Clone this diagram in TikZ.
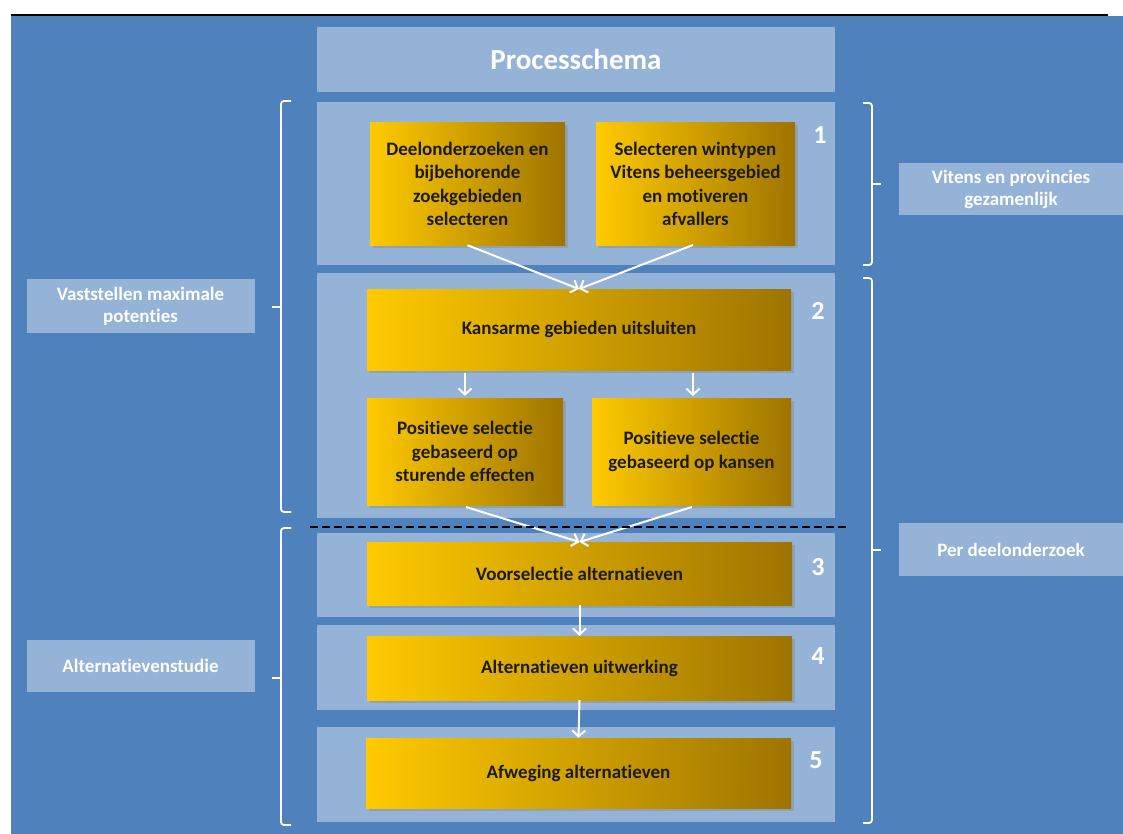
\documentclass[tikz,border=0pt]{standalone}
\usepackage{fontspec}
\setmainfont{Carlito}[Ligatures=NoCommon]
\usetikzlibrary{arrows.meta,shadows}
\definecolor{bgblue}{HTML}{4F81BD}
\definecolor{panelblue}{HTML}{95B3D7}
\definecolor{goldL}{HTML}{FFCA00}
\definecolor{goldR}{HTML}{9E7400}
\definecolor{txtdark}{HTML}{1A1A1A}
\tikzset{
  panel/.style={fill=panelblue, inner sep=0pt, minimum width=518pt},
  goldbox/.style={left color=goldL, right color=goldR, inner sep=2pt, align=center,
    text=txtdark, font=\fontsize{19}{23.6}\selectfont\bfseries,
    drop shadow={opacity=0.35, shadow xshift=2.5pt, shadow yshift=-2.5pt}},
  sidelabel/.style={fill=panelblue, inner sep=0pt, align=center, text=white,
    font=\fontsize{19}{22}\selectfont\bfseries},
  numlabel/.style={text=white, font=\fontsize{26}{26}\selectfont\bfseries, inner sep=0pt},
  arr/.style={draw=white, line width=2pt, -{Straight Barb[length=6pt,width=13pt,line width=2pt]}},
  bracket/.style={draw=white, line width=1.8pt, rounded corners=3pt},
}
\begin{document}
\begin{tikzpicture}[x=1pt, y=-1pt]
\useasboundingbox (0,0) rectangle (1123,834);
\fill[white] (0,0) rectangle (1123,834);
\fill[bgblue] (11,16) rectangle (1123,834);
\draw[black, line width=1.6pt] (11,15) -- (1108,15);

% title
\node[panel, minimum height=65pt, text=white, font=\fontsize{29}{29}\selectfont\bfseries] (title) at (576,59.5) {Processchema};

% panels
\node[panel, minimum height=163pt] (p1) at (576,183.5) {};
\node[panel, minimum height=245pt] (p2) at (576,395.5) {};
\node[panel, minimum height=84pt] (p3) at (576,575) {};
\node[panel, minimum height=85pt] (p4) at (576,667.5) {};
\node[panel, minimum height=95pt] (p5) at (576,774.5) {};

% gold boxes
\node[goldbox, minimum width=195pt, minimum height=122pt] (a) at (467.5,184) {Deelonderzoeken en\\bijbehorende\\zoekgebieden\\selecteren};
\node[goldbox, minimum width=199pt, minimum height=122pt] (b) at (695.5,184) {Selecteren wintypen\\Vitens beheersgebied\\en motiveren\\afvallers};
\node[goldbox, minimum width=424pt, minimum height=81pt] (k) at (579,329.5) {Kansarme gebieden uitsluiten};
\node[goldbox, minimum width=196pt, minimum height=107pt] (pl) at (465,451.5) {Positieve selectie\\gebaseerd op\\sturende effecten};
\node[goldbox, minimum width=199pt, minimum height=107pt] (pr) at (691.5,451.5) {Positieve selectie\\gebaseerd op kansen};
\node[goldbox, minimum width=425pt, minimum height=63pt] (v) at (579.5,573.5) {Voorselectie alternatieven};
\node[goldbox, minimum width=425pt, minimum height=64pt] (u) at (579.5,668) {Alternatieven uitwerking};
\node[goldbox, minimum width=425pt, minimum height=70pt] (w) at (578.5,773) {Afweging alternatieven};

% numbers
\node[numlabel] (n1) at (820,135) {1};
\node[numlabel] (n2) at (818,311) {2};
\node[numlabel] (n3) at (818,567) {3};
\node[numlabel] (n4) at (818,656) {4};
\node[numlabel] (n5) at (816,760) {5};

% arrows
\coordinate (kin) at (579,289);
\draw[arr] (a.south) -- (kin);
\draw[arr] (693,245) -- (kin);
\draw[arr, shorten <=3pt, shorten >=2pt] (pl.north |- k.south) -- (pl.north);
\draw[arr, shorten <=3pt, shorten >=2pt] (693,370) -- (693,398);
\coordinate (vin) at (579.5,542);
\draw[arr] (466,507) -- (vin);
\draw[arr] (692,507) -- (vin);
\draw[arr] (v.south) -- (u.north);
\draw[arr] (u.south) -- (w.north);

% dashed separator
\draw[black, line width=2.8pt, dash pattern=on 8pt off 4pt] (310,527) -- (848,527);

% side labels
\node[sidelabel, minimum width=228pt, minimum height=54pt] (l1) at (140.5,306) {Vaststellen maximale\\potenties};
\node[sidelabel, minimum width=228pt, minimum height=52pt] (l2) at (140.5,666) {Alternatievenstudie};
\node[sidelabel, minimum width=224pt, minimum height=52pt] (r1) at (1011,189) {Vitens en provincies\\gezamenlijk};
\node[sidelabel, minimum width=224pt, minimum height=53pt] (r2) at (1011,549.5) {Per deelonderzoek};

% brackets left
\draw[bracket] (291,101) -- (281,101) -- (281,512) -- (291,512);
\draw[white, line width=1.8pt] (281,307) -- (272,307);
\draw[bracket] (291,528) -- (281,528) -- (281,825) -- (291,825);
\draw[white, line width=1.8pt] (281,678) -- (272,678);
% brackets right
\draw[bracket] (863,103) -- (872,103) -- (872,265) -- (863,265);
\draw[white, line width=1.8pt] (872,184) -- (881,184);
\draw[bracket] (863,278) -- (872,278) -- (872,823) -- (863,823);
\draw[white, line width=1.8pt] (872,550) -- (881,550);
\end{tikzpicture}
\end{document}
